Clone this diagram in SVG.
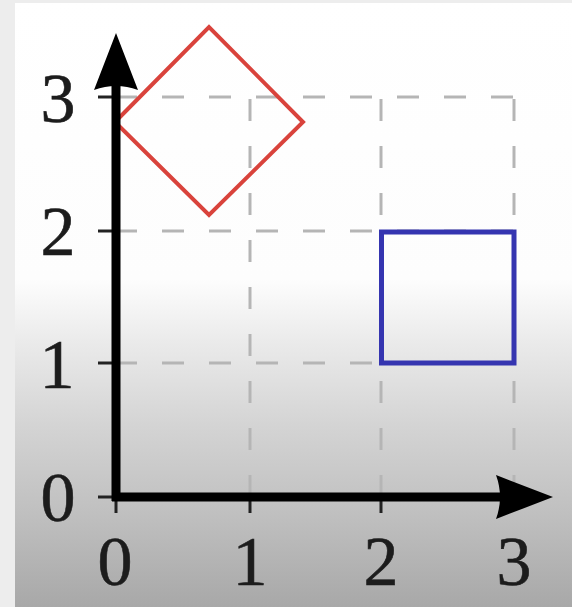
<svg xmlns="http://www.w3.org/2000/svg" width="572" height="607" viewBox="0 0 572 607">
  <defs>
    <linearGradient id="bg" x1="0" y1="0" x2="0" y2="607" gradientUnits="userSpaceOnUse">
      <stop offset="0" stop-color="#ffffff"/>
      <stop offset="0.46" stop-color="#fdfdfd"/>
      <stop offset="0.56" stop-color="#ebebeb"/>
      <stop offset="0.7" stop-color="#d4d4d4"/>
      <stop offset="0.85" stop-color="#bfbfbf"/>
      <stop offset="1" stop-color="#a8a8a8"/>
    </linearGradient>
    <style>
      .grid { fill: none; stroke: #b5b5b5; stroke-width: 3; stroke-dasharray: 22 25; }
      .tick { stroke: #222; stroke-width: 3; }
      .axis { stroke: #000; stroke-width: 9; fill: none; }
      .head { fill: #000; }
      .lbl { font-family: "Liberation Serif", "Times New Roman", serif; font-size: 70px; fill: #1c1c1c; text-anchor: middle; stroke: #1c1c1c; stroke-width: 0.6; }
    </style>
  </defs>
  <rect x="0" y="0" width="572" height="607" fill="#ededed"/>
  <rect x="15" y="3" width="557" height="604" fill="url(#bg)"/>

  <g id="grid">
    <path class="grid" d="M115,97 H514"/>
    <path class="grid" d="M115,231 H514"/>
    <path class="grid" d="M115,363 H514"/>
    <path class="grid" d="M250,497 V97"/>
    <path class="grid" d="M381,497 V97"/>
    <path class="grid" d="M514,497 V97"/>
  </g>

  <g id="ticks">
    <line class="tick" x1="98" y1="97" x2="116" y2="97"/>
    <line class="tick" x1="98" y1="231" x2="116" y2="231"/>
    <line class="tick" x1="98" y1="363" x2="116" y2="363"/>
    <line class="tick" x1="98" y1="497" x2="116" y2="497"/>
    <line class="tick" x1="116" y1="497" x2="116" y2="513"/>
    <line class="tick" x1="250" y1="497" x2="250" y2="513" stroke="#bbb"/>
    <line class="tick" x1="381" y1="497" x2="381" y2="513" stroke="#bbb"/>
  </g>

  <g id="diamond">
    <polygon points="115,122 209,27 303,122 209,215" fill="none" stroke="#d9433c" stroke-width="4" stroke-linejoin="miter"/>
  </g>

  <g id="square">
    <rect x="381.5" y="232" width="132.5" height="131" fill="none" stroke="#3535b0" stroke-width="5"/>
  </g>

  <g id="axes">
    <path class="axis" d="M116,501 V80"/>
    <path class="axis" d="M112,497 H505"/>
    <path class="head" d="M116,33 L138,90 Q116,82 94,90 Z"/>
    <path class="head" d="M553,497 L496,519 Q504,497 496,475 Z"/>
  </g>

  <g id="labels">
    <text class="lbl" x="58" y="122">3</text>
    <text class="lbl" x="58" y="255">2</text>
    <text class="lbl" x="57" y="388">1</text>
    <text class="lbl" x="58" y="521">0</text>
    <text class="lbl" x="115" y="585">0</text>
    <text class="lbl" x="250" y="585">1</text>
    <text class="lbl" x="381" y="585">2</text>
    <text class="lbl" x="514" y="585">3</text>
  </g>
</svg>
